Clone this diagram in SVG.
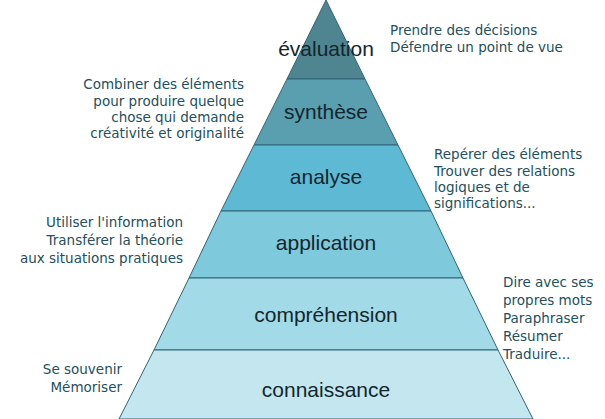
<svg xmlns="http://www.w3.org/2000/svg" width="605" height="419" viewBox="0 0 605 419">
<style>
.l{stroke:#2f6474;stroke-width:1}
.t{font-family:"Liberation Sans",Arial,sans-serif;font-size:21px;fill:#14262c;text-anchor:middle}
.s{font-family:"DejaVu Sans",Verdana,sans-serif;font-size:13.5px;fill:#23505c}
</style>
<rect width="605" height="419" fill="#fff"/>
<g id="evaluation"><polygon class="l" fill="#4f8491" points="326,0 287,79 365,79"/><text class="t" x="326" y="56">évaluation</text></g>
<g id="synthese"><polygon class="l" fill="#5a9fb0" points="287,79 365,79 398,145 254,145"/><text class="t" x="326" y="119">synthèse</text></g>
<g id="analyse"><polygon class="l" fill="#5ebad4" points="254,145 398,145 431,211 221,211"/><text class="t" x="326" y="184">analyse</text></g>
<g id="application"><polygon class="l" fill="#7ec9dc" points="221,211 431,211 463,278 189,278"/><text class="t" x="326" y="250">application</text></g>
<g id="comprehension"><polygon class="l" fill="#a3dae7" points="189,278 463,278 498,350 154,350"/><text class="t" x="326" y="322">compréhension</text></g>
<g id="connaissance"><polygon class="l" fill="#c3e6ef" points="154,350 498,350 533,419 119,419"/><text class="t" x="326" y="397">connaissance</text></g>
<g id="texts" class="s">
<text x="390" y="35">Prendre des décisions</text><text x="390" y="52">Défendre un point de vue</text>
<text text-anchor="end" x="244" y="89">Combiner des éléments</text><text text-anchor="end" x="244" y="106">pour  produire quelque</text><text text-anchor="end" x="244" y="122">chose qui demande</text><text text-anchor="end" x="244" y="138">créativité et originalité</text>
<text x="434" y="159">Repérer des éléments</text><text x="434" y="176">Trouver des relations</text><text x="434" y="192">logiques et de</text><text x="434" y="208">significations...</text>
<text text-anchor="end" x="183" y="227">Utiliser l'information</text><text text-anchor="end" x="183" y="245">Transférer la théorie</text><text text-anchor="end" x="183" y="263">aux situations pratiques</text>
<text x="503" y="287">Dire avec ses</text><text x="503" y="305">propres mots</text><text x="503" y="323">Paraphraser</text><text x="503" y="341">Résumer</text><text x="503" y="359">Traduire...</text>
<text text-anchor="end" x="122" y="374">Se souvenir</text><text text-anchor="end" x="122" y="392">Mémoriser</text>
</g>
</svg>
